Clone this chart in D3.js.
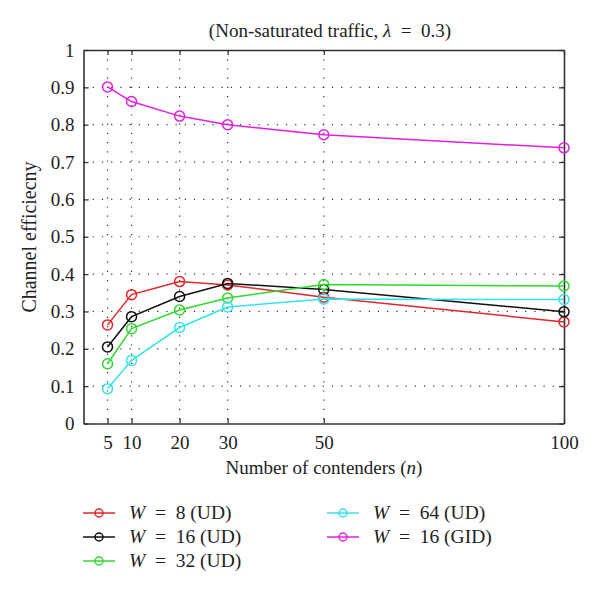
<!DOCTYPE html>
<html><head><meta charset="utf-8">
<script src="https://cdn.jsdelivr.net/npm/d3@7"></script>
<style>body{margin:0;background:#fff}svg{display:block}
svg text{font-family:"Liberation Serif","Times New Roman","DejaVu Serif",serif !important;fill:#222}</style>
</head><body><svg id="c" width="600" height="593"></svg>
<script>
const contenders = [5, 10, 20, 30, 50, 100];
const seriesNames = ["8 (UD)", "16 (UD)", "32 (UD)", "64 (UD)", "16 (GID)"];
const seriesColors = ["#e3262b", "#111111", "#2fd92f", "#33e3e8", "#e020e0"];
const w8UD  = [0.264, 0.345, 0.380, 0.371, 0.338, 0.272];
const w16UD = [0.205, 0.286, 0.340, 0.375, 0.359, 0.299];
const w32UD = [0.160, 0.254, 0.304, 0.336, 0.372, 0.368];
const w64UD = [0.093, 0.169, 0.257, 0.312, 0.333, 0.332];
const w16GID = [0.901, 0.862, 0.823, 0.800, 0.773, 0.738];
const yTicks = [0, 0.1, 0.2, 0.3, 0.4, 0.5, 0.6, 0.7, 0.8, 0.9, 1];
const yTickLabels = ["0","0.1","0.2","0.3","0.4","0.5","0.6","0.7","0.8","0.9","1"];
const xTicks = [5, 10, 20, 30, 50, 100];
const series = [w8UD, w16UD, w32UD, w64UD, w16GID];

const svg = d3.select("#c");
const L = 83.5, R = 564, T = 50, B = 423.5;
const x = d3.scaleLinear().domain([0, 100]).range([L, R]);
const y = d3.scaleLinear().domain([0, 1]).range([B, T]);

// grid
const g = svg.append("g");
g.selectAll(".gy").data(yTicks.filter(v => v > 0 && v < 1)).enter().append("line")
  .attr("x1", L).attr("x2", R).attr("y1", d => y(d)).attr("y2", d => y(d))
  .attr("stroke", "#333").attr("stroke-width", 1.2).attr("stroke-dasharray", "1.2,8");
g.selectAll(".gx").data(xTicks.filter(v => v < 100)).enter().append("line")
  .attr("y1", T).attr("y2", B).attr("x1", d => x(d)).attr("x2", d => x(d))
  .attr("stroke", "#333").attr("stroke-width", 1.2).attr("stroke-dasharray", "1.2,8");

// axes
const axL = d3.axisLeft(y).tickValues(yTicks).tickFormat((d, i) => yTickLabels[i]).tickSizeInner(-5).tickSizeOuter(0).tickPadding(9);
const axR = d3.axisRight(y).tickValues(yTicks).tickFormat("").tickSizeInner(-5).tickSizeOuter(0);
const axB = d3.axisBottom(x).tickValues(xTicks).tickFormat(d3.format("d")).tickSizeInner(-5).tickSizeOuter(0).tickPadding(12);
const axT = d3.axisTop(x).tickValues(xTicks).tickFormat("").tickSizeInner(-5).tickSizeOuter(0);
function style(sel) {
  sel.attr("font-family", null).attr("font-size", null);
  sel.selectAll("path").attr("stroke", "#333").attr("stroke-width", 1.6);
  sel.selectAll("line").attr("stroke", "#333").attr("stroke-width", 1.3);
  sel.selectAll("text").style("font-size", "19px");
}
svg.append("g").attr("transform", `translate(${L},0)`).call(axL).call(style);
svg.append("g").attr("transform", `translate(${R},0)`).call(axR).call(style);
svg.append("g").attr("transform", `translate(0,${B})`).call(axB).call(style);
svg.append("g").attr("transform", `translate(0,${T})`).call(axT).call(style);

// series
const line = d3.line().x((d, i) => x(contenders[i])).y(d => y(d));
series.forEach((vals, k) => {
  svg.append("path").datum(vals).attr("d", line).attr("fill", "none")
    .attr("stroke", seriesColors[k]).attr("stroke-width", 1.5);
  svg.selectAll(".m" + k).data(vals).enter().append("circle")
    .attr("cx", (d, i) => x(contenders[i])).attr("cy", d => y(d)).attr("r", 5)
    .attr("fill", "none").attr("stroke", seriesColors[k]).attr("stroke-width", 1.5);
});

// title & labels
svg.append("text").attr("x", 330).attr("y", 37).attr("text-anchor", "middle")
  .style("font-size", "19px")
  .html("(Non-saturated traffic, <tspan font-style='italic'>λ</tspan>\u2002=\u20020.3)");
svg.append("text").attr("x", 324).attr("y", 474).attr("text-anchor", "middle")
  .style("font-size", "19px")
  .html("Number of contenders (<tspan font-style='italic'>n</tspan>)");
svg.append("text").attr("transform", "translate(36,237) rotate(-90)").attr("text-anchor", "middle")
  .style("font-size", "20px")
  .text("Channel efficiecny");

// legend
const legPos = [[83, 513], [83, 537], [83, 561], [327, 513], [327, 537]];
seriesNames.forEach((name, k) => {
  const [lx, ly] = legPos[k];
  const lg = svg.append("g").attr("transform", `translate(${lx},${ly})`);
  lg.append("line").attr("x1", 0).attr("x2", 32).attr("y1", 0).attr("y2", 0)
    .attr("stroke", seriesColors[k]).attr("stroke-width", 1.5);
  lg.append("circle").attr("cx", 16).attr("cy", 0).attr("r", 4)
    .attr("fill", "none").attr("stroke", seriesColors[k]).attr("stroke-width", 1.5);
  lg.append("text").attr("x", 46).attr("y", 6).style("font-size", "19.5px")
    .html(`<tspan font-style='italic'>W</tspan>\u2002=\u2002${name}`);
});
</script></body></html>
